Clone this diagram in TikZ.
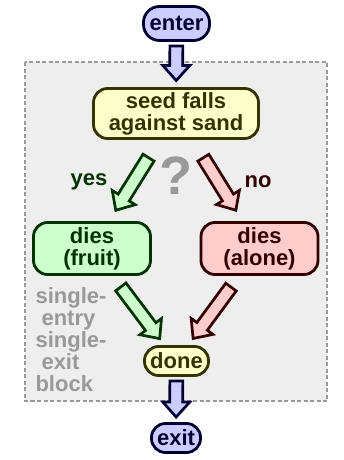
\documentclass[tikz,border=0pt]{standalone}
\usepackage{fontspec}
\setmainfont{Liberation Sans}
\usetikzlibrary{calc}

\definecolor{blueFill}{HTML}{CCCCFF}
\definecolor{blueLine}{HTML}{000033}
\definecolor{sandFill}{HTML}{FFFFCC}
\definecolor{sandLine}{HTML}{333300}
\definecolor{greenFill}{HTML}{CCFFCC}
\definecolor{greenLine}{HTML}{003300}
\definecolor{redFill}{HTML}{FFCCCC}
\definecolor{redLine}{HTML}{330000}
\definecolor{blockFill}{HTML}{EEEEEE}
\definecolor{blockGray}{HTML}{999999}

\tikzset{
  label font/.style={font=\bfseries\fontsize{22}{22}\selectfont},
  box/.style={draw, line width=2.8pt, rounded corners=14pt, align=center,
    inner sep=0pt, label font},
  term/.style={box, rounded corners=16pt, fill=blueFill, draw=blueLine, text=blueLine,
    minimum height=34pt},
  sandbox/.style={box, fill=sandFill, draw=sandLine, text=sandLine},
  yesbox/.style={box, fill=greenFill, draw=greenLine, text=greenLine,
    minimum width=117pt, minimum height=52pt},
  nobox/.style={box, fill=redFill, draw=redLine, text=redLine,
    minimum width=117pt, minimum height=52pt},
  % block arrow from centre to centre, #1 = gap at start, #2 = gap at end
  fat/.style 2 args={line width=2.7pt, line join=miter,
    to path={let \p1=($(\tikztotarget)-(\tikztostart)$),
      \n1={veclen(\x1,\y1)}, \n2={atan2(\y1,\x1)} in
      ($(\tikztostart)+(\n2:#1)+({\n2+90}:6.5pt)$)
      -- ($(\tikztostart)+(\n2:{\n1-#2-15pt})+({\n2+90}:6.5pt)$)
      -- ($(\tikztostart)+(\n2:{\n1-#2-15pt})+({\n2+90}:13.5pt)$)
      -- ($(\tikztostart)+(\n2:{\n1-#2})$)
      -- ($(\tikztostart)+(\n2:{\n1-#2-15pt})+({\n2-90}:13.5pt)$)
      -- ($(\tikztostart)+(\n2:{\n1-#2-15pt})+({\n2-90}:6.5pt)$)
      -- ($(\tikztostart)+(\n2:#1)+({\n2-90}:6.5pt)$) -- cycle}},
  bluearrow/.style={draw=blueLine, fill=blueFill},
  greenarrow/.style={draw=greenLine, fill=greenFill},
  redarrow/.style={draw=redLine, fill=redFill}
}

\begin{document}
\begin{tikzpicture}[x=1pt, y=-1pt]
  \useasboundingbox (0,0) rectangle (344,460);

  % single-entry single-exit block
  \draw[blockGray, fill=blockFill, line width=2.5pt, dash pattern=on 4pt off 2.5pt]
    (25,62) rectangle (327,401);
  \node[label font, text=blockGray, align=left, anchor=north west] (sese) at (32,284)
    {single-\\\hspace*{6pt}entry\\single-\\\hspace*{6pt}exit\\block};

  % nodes
  \node[term, minimum width=66pt] (enter) at (176.5,23.5) {enter};
  \node[sandbox, minimum width=165pt, minimum height=50pt] (seed) at (176,113.5)
    {seed falls\\against sand};
  \node[yesbox] (fruit) at (92,248.5) {dies\\(fruit)};
  \node[nobox] (alone) at (259.5,248.5) {dies\\(alone)};
  \node[sandbox, rounded corners=14pt, minimum width=64pt, minimum height=29pt]
    (done) at (176.5,361) {done};
  \node[term, rounded corners=14pt, minimum width=49pt, minimum height=29pt]
    (exit) at (176,438) {exit};

  % decision labels
  \node[font=\bfseries\fontsize{54}{54}\selectfont, text=blockGray] (ask) at (176,176) {?};
  \node[label font, text=greenLine] (yes) at (89,182) {yes};
  \node[label font, text=redLine] (no) at (258,182) {no};

  % arrows
  \draw[fat={22.5pt}{33pt}, bluearrow] (enter.center) to (seed.center);
  \draw[fat={52pt}{45pt}, greenarrow] (seed.center) to (fruit.center);
  \draw[fat={52pt}{45pt}, redarrow] (seed.center) to (alone.center);
  \draw[fat={48pt}{28pt}, greenarrow] (fruit.center) to (done.center);
  \draw[fat={48pt}{28pt}, redarrow] (alone.center) to (done.center);
  \draw[fat={20pt}{21pt}, bluearrow] (done.center) to (exit.center);
\end{tikzpicture}
\end{document}
